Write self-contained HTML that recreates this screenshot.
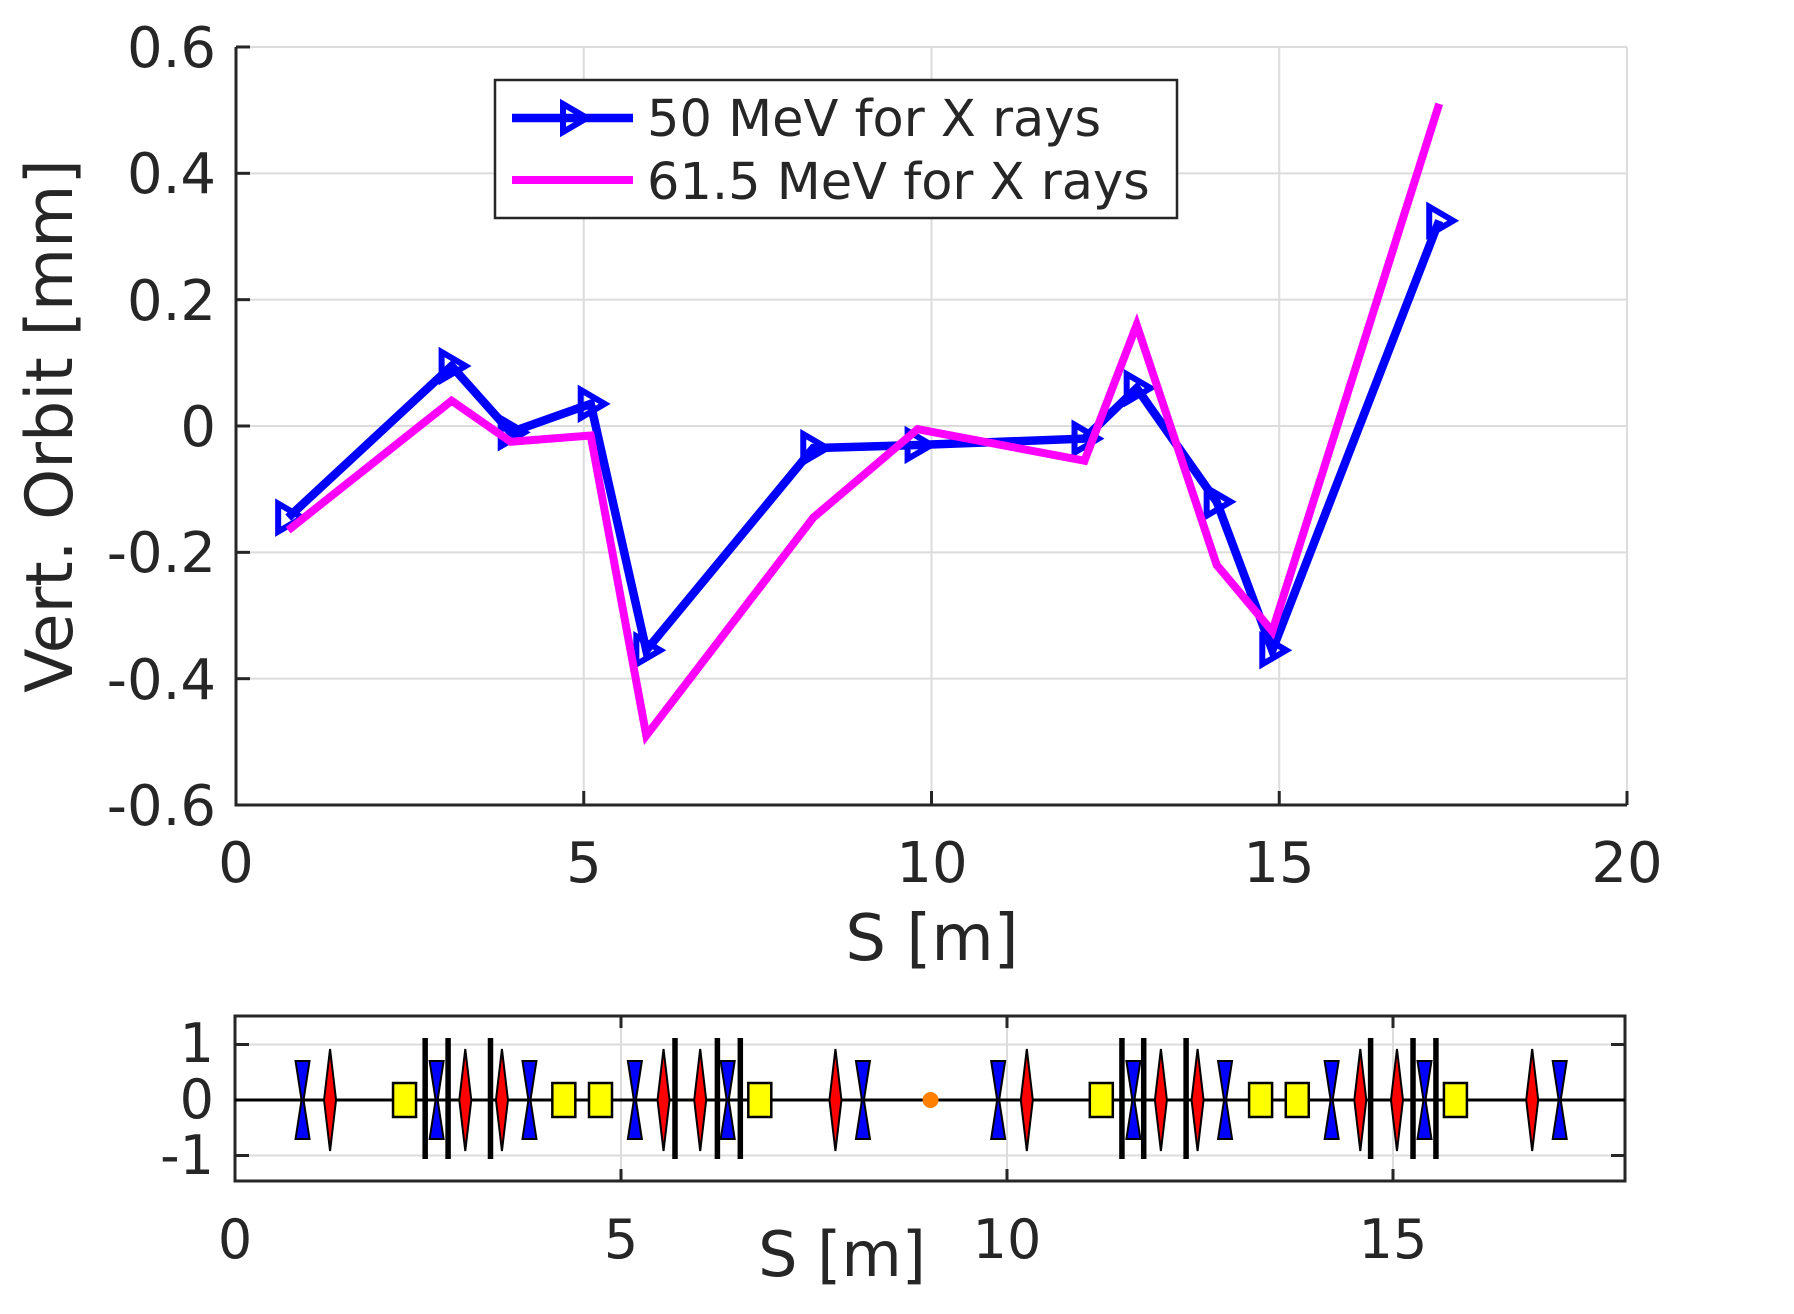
<!DOCTYPE html>
<html><head><meta charset="utf-8"><style>
html,body{margin:0;padding:0;background:#fff}
svg{display:block}
text{font-family:"DejaVu Sans","Liberation Sans",sans-serif;fill:#262626}
</style></head><body>
<svg id="s" width="1794" height="1314" viewBox="0 0 1794 1314" xmlns="http://www.w3.org/2000/svg">
<rect width="1794" height="1314" fill="#fff"/>
<g id="main"></g>
<g id="bot"></g>
<g font-size="56" text-anchor="end">
<text x="216" y="67">0.6</text>
<text x="216" y="193">0.4</text>
<text x="216" y="320">0.2</text>
<text x="216" y="446">0</text>
<text x="216" y="572">-0.2</text>
<text x="216" y="699">-0.4</text>
<text x="216" y="825">-0.6</text>
</g>
<g font-size="56" text-anchor="middle">
<text x="236" y="882">0</text>
<text x="584" y="882">5</text>
<text x="932" y="882">10</text>
<text x="1279" y="882">15</text>
<text x="1627" y="882">20</text>
</g>
<text x="932" y="960" font-size="64" text-anchor="middle">S [m]</text>
<text transform="translate(72,426) rotate(-90)" font-size="65" text-anchor="middle">Vert. Orbit [mm]</text>
<g font-size="54" text-anchor="end">
<text x="214" y="1062">1</text>
<text x="214" y="1118">0</text>
<text x="214" y="1174">-1</text>
</g>
<g font-size="54" text-anchor="middle">
<text x="235" y="1258">0</text>
<text x="621" y="1258">5</text>
<text x="1007" y="1258">10</text>
<text x="1393" y="1258">15</text>
</g>
<text x="842" y="1276" font-size="62" text-anchor="middle">S [m]</text>
</svg>
<script>
var NS="http://www.w3.org/2000/svg";
function el(p,t,a){var e=document.createElementNS(NS,t);for(var k in a)e.setAttribute(k,a[k]);p.appendChild(e);return e;}
var m=document.getElementById('main');
var X=function(s){return 236+s*69.55}, Y=function(v){return 426-v*631.7};
for(var i=1;i<4;i++){var x=X(i*5);el(m,'line',{x1:x,y1:47,x2:x,y2:805,stroke:'#dcdcdc','stroke-width':2});}
for(var j=-2;j<=2;j++){var y=Y(j*0.2);el(m,'line',{x1:236,y1:y,x2:1627,y2:y,stroke:'#dcdcdc','stroke-width':2});}
el(m,'line',{x1:236,y1:47,x2:1627,y2:47,stroke:'#dcdcdc','stroke-width':2});
el(m,'line',{x1:1627,y1:47,x2:1627,y2:805,stroke:'#dcdcdc','stroke-width':2});
el(m,'path',{d:'M236,47 V805 H1627',fill:'none',stroke:'#262626','stroke-width':3});
for(var i=0;i<=4;i++){var x=X(i*5);el(m,'line',{x1:x,y1:805,x2:x,y2:791,stroke:'#262626','stroke-width':3});}
el(m,'line',{x1:1627,y1:805,x2:1627,y2:791,stroke:'#262626','stroke-width':3});
for(var j=-3;j<=3;j++){var y=Y(j*0.2);el(m,'line',{x1:236,y1:y,x2:250,y2:y,stroke:'#262626','stroke-width':3});}
var S=[0.75,3.1,3.95,5.1,5.9,8.3,9.8,12.2,12.95,14.1,14.9,17.3];
var B=[-0.145,0.095,-0.01,0.035,-0.355,-0.035,-0.03,-0.02,0.06,-0.12,-0.355,0.325];
var P=[-0.165,0.04,-0.025,-0.015,-0.49,-0.145,-0.005,-0.055,0.16,-0.22,-0.325,0.51];
function pts(A){return S.map(function(s,i){return X(s).toFixed(1)+','+Y(A[i]).toFixed(1)}).join(' ');}
el(m,'polyline',{points:pts(B),fill:'none',stroke:'#0000ff','stroke-width':8.5});
S.forEach(function(s,i){var x=X(s),y=Y(B[i]);el(m,'path',{d:'M'+(x-10)+','+(y-14)+' L'+(x+14)+','+y+' L'+(x-10)+','+(y+14)+'Z',fill:'none',stroke:'#0000ff','stroke-width':6});});
el(m,'polyline',{points:pts(P),fill:'none',stroke:'#ff00ff','stroke-width':8});
el(m,'rect',{x:495,y:80,width:682,height:138,fill:'#fff',stroke:'#262626','stroke-width':2.5});
el(m,'line',{x1:512,y1:118,x2:633,y2:118,stroke:'#0000ff','stroke-width':8.5});
el(m,'path',{d:'M563,104 L587,118 L563,132Z',fill:'none',stroke:'#0000ff','stroke-width':6});
el(m,'line',{x1:512,y1:180,x2:633,y2:180,stroke:'#ff00ff','stroke-width':8});
var t=el(m,'text',{x:647,y:136,'font-size':51,fill:'#000'});t.textContent='50 MeV for X rays';
t=el(m,'text',{x:647,y:199,'font-size':51,fill:'#000'});t.textContent='61.5 MeV for X rays';
var b=document.getElementById('bot');
var XB=function(s){return 235+s*77.2}, Y0=1100, U=55.5;
[5,10,15].forEach(function(s){el(b,'line',{x1:XB(s),y1:1016,x2:XB(s),y2:1181,stroke:'#dcdcdc','stroke-width':2});});
[-1,1].forEach(function(v){el(b,'line',{x1:235,y1:Y0-v*U,x2:1625,y2:Y0-v*U,stroke:'#dcdcdc','stroke-width':2});});
el(b,'rect',{x:235,y:1016,width:1390,height:165,fill:'none',stroke:'#262626','stroke-width':3});
[5,10,15].forEach(function(s){el(b,'line',{x1:XB(s),y1:1016,x2:XB(s),y2:1028,stroke:'#262626','stroke-width':3});el(b,'line',{x1:XB(s),y1:1181,x2:XB(s),y2:1169,stroke:'#262626','stroke-width':3});});
[-1,0,1].forEach(function(v){var y=Y0-v*U;el(b,'line',{x1:235,y1:y,x2:249,y2:y,stroke:'#262626','stroke-width':3});el(b,'line',{x1:1625,y1:y,x2:1611,y2:y,stroke:'#262626','stroke-width':3});});
el(b,'line',{x1:235,y1:Y0,x2:1625,y2:Y0,stroke:'#000','stroke-width':3});
var k=1.146;
[264,381,462,554,635,753,871,989,1069,1162,1243,1361].forEach(function(d){var x=d*k;el(b,'path',{d:'M'+(x-7)+','+(Y0-39)+' H'+(x+7)+' L'+(x+1)+','+Y0+' L'+(x+7)+','+(Y0+39)+' H'+(x-7)+' L'+(x-1)+','+Y0+'Z',fill:'#0000ff',stroke:'#000','stroke-width':2});});
[288,406,438,579,611,729,896,1013,1045,1187,1219,1337].forEach(function(d){var x=d*k;el(b,'path',{d:'M'+x+','+(Y0-51)+' L'+(x+6)+','+Y0+' L'+x+','+(Y0+51)+' L'+(x-6)+','+Y0+'Z',fill:'#ff0000',stroke:'#000','stroke-width':2});});
[353,492,524,663,961,1100,1132,1270].forEach(function(d){var x=d*k;el(b,'rect',{x:x-11.5,y:Y0-17,width:23,height:34,fill:'#ffff00',stroke:'#000','stroke-width':2.5});});
[371,391,428,589,626,646,979,998,1035,1196,1233,1253].forEach(function(d){var x=d*k;el(b,'rect',{x:x-2.75,y:Y0-62,width:5.5,height:121,fill:'#000'});});
el(b,'circle',{cx:812*k,cy:Y0,r:8,fill:'#ff8000'});
</script>
</body></html>
